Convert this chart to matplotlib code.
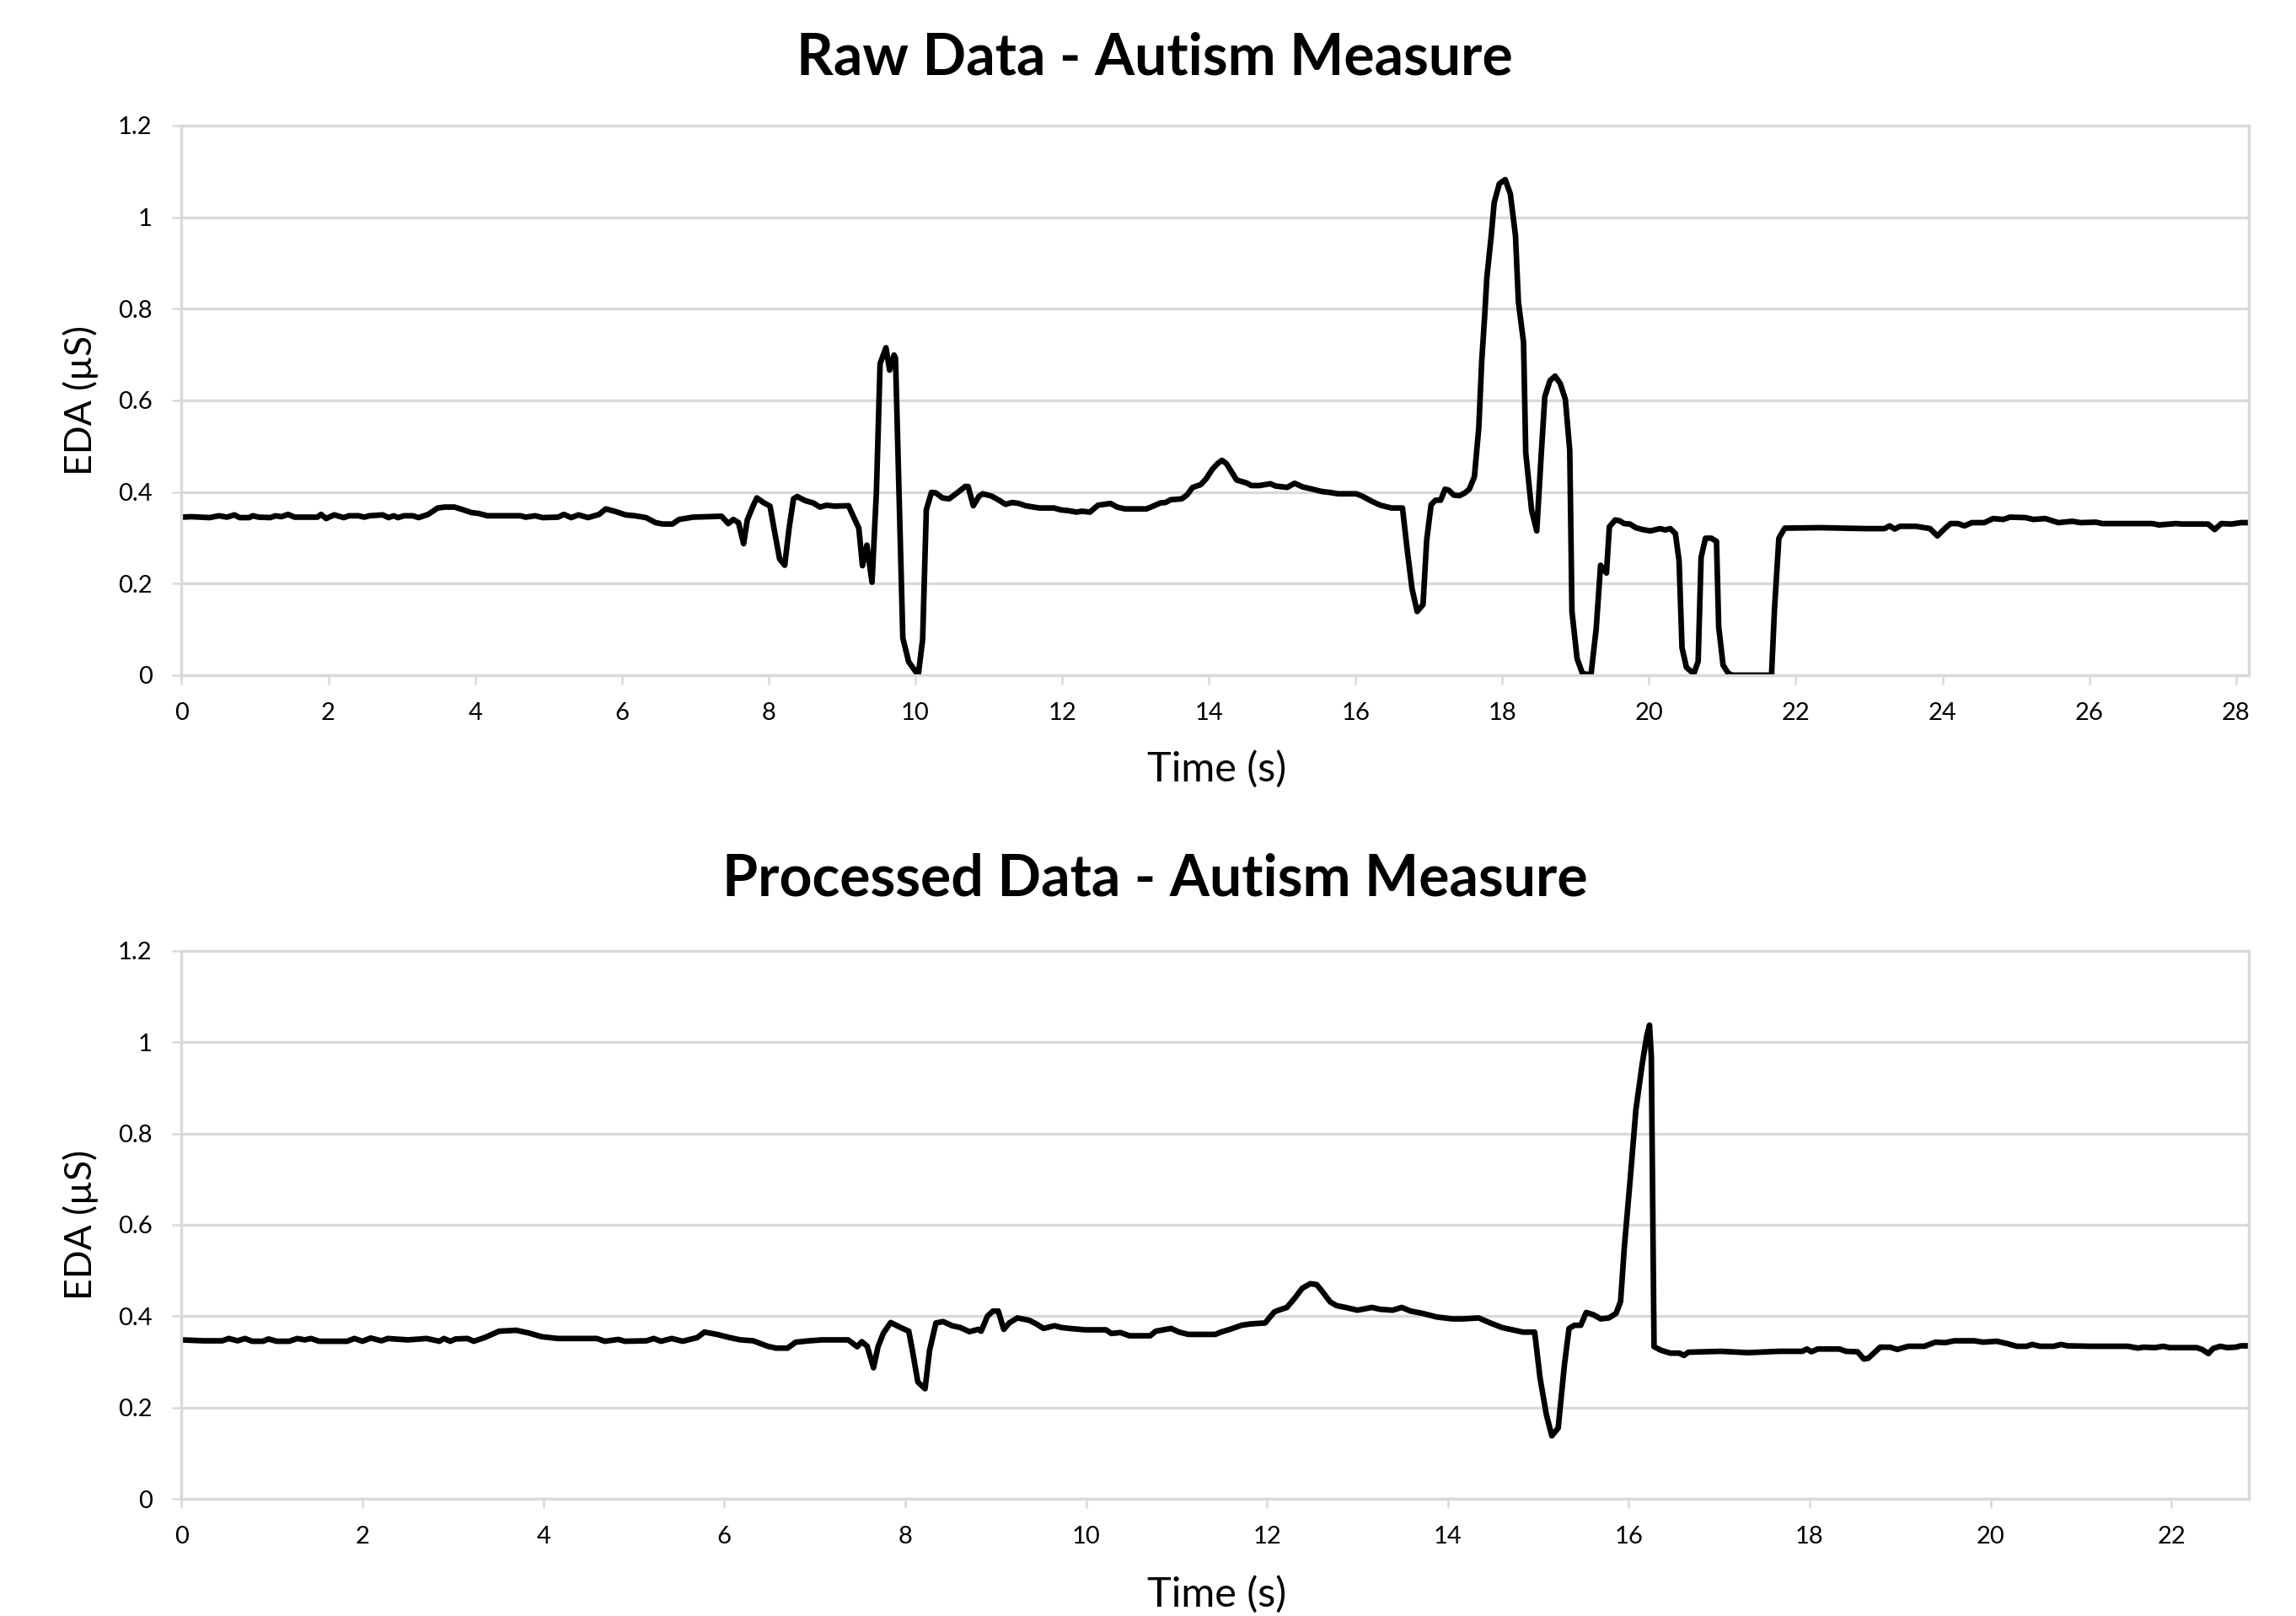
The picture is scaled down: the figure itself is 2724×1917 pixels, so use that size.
"""EDA raw vs processed figure (two stacked panels, Excel-like styling)."""

import matplotlib

matplotlib.use("Agg")
import matplotlib.pyplot as plt

plt.rcParams.update({
    "font.family": "Lato",
    "font.size": 21,
})

# ---------------------------------------------------------------------------
# data
raw_time = [
    0.00, 0.13, 0.38, 0.51, 0.62, 0.72, 0.79, 0.92, 0.97, 1.05, 1.21, 1.28,
    1.36, 1.45, 1.54, 1.85, 1.90, 1.97, 2.08, 2.21, 2.28, 2.41, 2.49, 2.56,
    2.74, 2.82, 2.89, 2.95, 3.03, 3.15, 3.23, 3.36, 3.49, 3.59, 3.72, 3.82,
    3.95, 4.05, 4.17, 4.62, 4.69, 4.82, 4.92, 5.13, 5.21, 5.31, 5.41, 5.54,
    5.69, 5.78, 5.92, 6.05, 6.18, 6.33, 6.46, 6.56, 6.69, 6.78, 6.97, 7.36,
    7.45, 7.52, 7.59, 7.66, 7.71, 7.79, 7.84, 7.93, 8.02, 8.08, 8.15, 8.22,
    8.28, 8.34, 8.39, 8.50, 8.61, 8.70, 8.79, 8.90, 9.09, 9.16, 9.23, 9.28,
    9.34, 9.41, 9.47, 9.52, 9.60, 9.65, 9.71, 9.73, 9.78, 9.83, 9.91, 10.04,
    10.10, 10.15, 10.22, 10.28, 10.37, 10.46, 10.57, 10.68, 10.72, 10.79,
    10.87, 10.92, 11.04, 11.14, 11.23, 11.32, 11.41, 11.50, 11.61, 11.69,
    11.89, 11.98, 12.09, 12.20, 12.27, 12.38, 12.49, 12.66, 12.75, 12.86,
    13.15, 13.24, 13.34, 13.41, 13.48, 13.63, 13.70, 13.78, 13.89, 13.96,
    14.05, 14.12, 14.18, 14.24, 14.31, 14.38, 14.51, 14.58, 14.69, 14.84,
    14.91, 15.07, 15.17, 15.28, 15.39, 15.54, 15.65, 15.76, 16.01, 16.09,
    16.23, 16.34, 16.49, 16.64, 16.70, 16.77, 16.84, 16.92, 16.97, 17.03,
    17.09, 17.16, 17.22, 17.27, 17.34, 17.42, 17.49, 17.55, 17.62, 17.68,
    17.72, 17.76, 17.79, 17.85, 17.89, 17.96, 18.04, 18.11, 18.18, 18.22,
    18.29, 18.32, 18.40, 18.47, 18.53, 18.58, 18.65, 18.72, 18.79, 18.86,
    18.92, 18.95, 19.02, 19.09, 19.14, 19.21, 19.28, 19.34, 19.42, 19.46,
    19.54, 19.60, 19.66, 19.74, 19.82, 19.91, 20.02, 20.15, 20.22, 20.29,
    20.36, 20.41, 20.45, 20.51, 20.61, 20.67, 20.71, 20.77, 20.85, 20.92,
    20.95, 21.01, 21.08, 21.14, 21.67, 21.71, 21.77, 21.85, 22.34, 22.94,
    23.21, 23.28, 23.35, 23.42, 23.64, 23.83, 23.93, 24.03, 24.11, 24.21,
    24.30, 24.40, 24.57, 24.69, 24.83, 24.92, 25.13, 25.24, 25.40, 25.58,
    25.77, 25.88, 26.09, 26.18, 26.41, 26.86, 26.95, 27.18, 27.27, 27.62,
    27.71, 27.80, 27.94, 28.07, 28.16,
]
raw_eda = [
    0.345, 0.346, 0.344, 0.348, 0.345, 0.350, 0.344, 0.344, 0.348, 0.345, 0.344, 0.348,
    0.346, 0.351, 0.345, 0.345, 0.351, 0.342, 0.350, 0.344, 0.348, 0.348, 0.345, 0.348,
    0.350, 0.344, 0.348, 0.344, 0.348, 0.348, 0.344, 0.351, 0.365, 0.367, 0.367, 0.362,
    0.355, 0.353, 0.348, 0.348, 0.345, 0.348, 0.344, 0.345, 0.351, 0.344, 0.350, 0.344,
    0.351, 0.363, 0.357, 0.350, 0.348, 0.344, 0.333, 0.330, 0.330, 0.340, 0.345, 0.347,
    0.331, 0.340, 0.333, 0.287, 0.339, 0.370, 0.387, 0.377, 0.369, 0.315, 0.254, 0.240,
    0.321, 0.385, 0.390, 0.381, 0.376, 0.367, 0.371, 0.369, 0.370, 0.345, 0.321, 0.239,
    0.284, 0.203, 0.401, 0.680, 0.715, 0.666, 0.699, 0.692, 0.388, 0.081, 0.029, 0.000,
    0.078, 0.361, 0.399, 0.398, 0.387, 0.385, 0.398, 0.412, 0.412, 0.370,
    0.391, 0.396, 0.391, 0.382, 0.373, 0.377, 0.375, 0.370, 0.367, 0.365,
    0.365, 0.361, 0.359, 0.356, 0.358, 0.356, 0.371, 0.375, 0.367, 0.363,
    0.363, 0.369, 0.376, 0.377, 0.383, 0.385, 0.393, 0.410, 0.416, 0.428,
    0.450, 0.462, 0.469, 0.462, 0.444, 0.426, 0.420, 0.414, 0.414, 0.418,
    0.413, 0.410, 0.419, 0.411, 0.407, 0.401, 0.399, 0.396, 0.396, 0.391,
    0.379, 0.371, 0.365, 0.365, 0.280, 0.189, 0.139, 0.154, 0.295, 0.372,
    0.382, 0.382, 0.406, 0.404, 0.393, 0.392, 0.398, 0.406, 0.433, 0.540,
    0.685, 0.784, 0.868, 0.960, 1.032, 1.073, 1.082, 1.051, 0.960, 0.815,
    0.727, 0.486, 0.360, 0.315, 0.479, 0.608, 0.643, 0.653, 0.637, 0.602,
    0.490, 0.139, 0.036, 0.005, 0.002, 0.002, 0.101, 0.240, 0.223, 0.324,
    0.339, 0.337, 0.331, 0.330, 0.322, 0.318, 0.315, 0.320, 0.317, 0.320,
    0.309, 0.250, 0.060, 0.017, 0.003, 0.030, 0.257, 0.299, 0.299, 0.292,
    0.105, 0.022, 0.004, 0.000, 0.000, 0.143, 0.299, 0.321, 0.322, 0.320,
    0.320, 0.326, 0.319, 0.325, 0.325, 0.320, 0.304, 0.320, 0.331, 0.331,
    0.326, 0.333, 0.333, 0.342, 0.340, 0.345, 0.344, 0.340, 0.342, 0.333,
    0.336, 0.333, 0.334, 0.331, 0.331, 0.331, 0.328, 0.331, 0.330, 0.330,
    0.318, 0.331, 0.330, 0.333, 0.333,
]

proc_time = [
    0.00, 0.24, 0.45, 0.52, 0.62, 0.70, 0.78, 0.90, 0.96, 1.05, 1.19, 1.28,
    1.36, 1.43, 1.52, 1.83, 1.91, 2.00, 2.09, 2.21, 2.28, 2.42, 2.50, 2.71,
    2.85, 2.90, 2.97, 3.03, 3.16, 3.23, 3.35, 3.51, 3.70, 3.84, 3.98, 4.16,
    4.59, 4.68, 4.83, 4.90, 5.14, 5.22, 5.30, 5.42, 5.54, 5.70, 5.78, 5.92,
    6.06, 6.18, 6.32, 6.48, 6.57, 6.70, 6.79, 6.94, 7.08, 7.37, 7.47, 7.52,
    7.58, 7.65, 7.70, 7.76, 7.84, 7.95, 8.04, 8.08, 8.14, 8.22, 8.27, 8.34,
    8.42, 8.52, 8.61, 8.71, 8.81, 8.84, 8.91, 8.97, 9.03, 9.09, 9.15, 9.24,
    9.37, 9.45, 9.53, 9.65, 9.73, 9.82, 9.99, 10.22, 10.28, 10.38, 10.48,
    10.71, 10.77, 10.94, 11.03, 11.13, 11.43, 11.49, 11.59, 11.72, 11.82,
    11.98, 12.08, 12.13, 12.22, 12.31, 12.39, 12.48, 12.55, 12.60, 12.70,
    12.77, 12.87, 13.00, 13.16, 13.25, 13.39, 13.49, 13.59, 13.72, 13.88,
    14.05, 14.17, 14.34, 14.47, 14.60, 14.83, 14.96, 15.02, 15.09, 15.15,
    15.22, 15.29, 15.34, 15.40, 15.47, 15.53, 15.61, 15.69, 15.78, 15.86,
    15.91, 15.95, 16.02, 16.08, 16.15, 16.20, 16.23, 16.25, 16.28, 16.36,
    16.46, 16.56, 16.61, 16.66, 17.02, 17.32, 17.66, 17.92, 17.97, 18.02,
    18.09, 18.33, 18.40, 18.53, 18.60, 18.65, 18.78, 18.89, 18.97, 19.09,
    19.27, 19.39, 19.50, 19.60, 19.82, 19.92, 20.07, 20.18, 20.29, 20.40,
    20.46, 20.55, 20.70, 20.78, 20.85, 21.11, 21.52, 21.63, 21.69, 21.82,
    21.91, 21.98, 22.28, 22.34, 22.41, 22.46, 22.54, 22.62, 22.71, 22.77,
    22.86,
]
proc_eda = [
    0.348, 0.346, 0.346, 0.351, 0.346, 0.351, 0.345, 0.345, 0.350, 0.345, 0.345, 0.351,
    0.348, 0.351, 0.345, 0.345, 0.351, 0.345, 0.352, 0.346, 0.351, 0.349, 0.348, 0.351,
    0.345, 0.351, 0.345, 0.350, 0.351, 0.345, 0.353, 0.367, 0.369, 0.363, 0.355, 0.351,
    0.351, 0.345, 0.349, 0.345, 0.346, 0.351, 0.345, 0.351, 0.345, 0.353, 0.365, 0.360,
    0.353, 0.348, 0.346, 0.334, 0.330, 0.330, 0.343, 0.346, 0.348, 0.348, 0.333, 0.344,
    0.334, 0.287, 0.333, 0.363, 0.386, 0.375, 0.367, 0.325, 0.256, 0.241, 0.325, 0.385,
    0.388, 0.379, 0.375, 0.366, 0.371, 0.367, 0.400, 0.411, 0.411, 0.371, 0.385, 0.396,
    0.391, 0.383, 0.373, 0.379, 0.375, 0.373, 0.370, 0.370, 0.362, 0.364, 0.357,
    0.357, 0.367, 0.373, 0.365, 0.360, 0.360, 0.365, 0.371, 0.380, 0.383,
    0.385, 0.409, 0.413, 0.419, 0.440, 0.461, 0.471, 0.469, 0.457, 0.431,
    0.423, 0.419, 0.413, 0.419, 0.415, 0.413, 0.419, 0.411, 0.406, 0.398,
    0.394, 0.394, 0.396, 0.385, 0.375, 0.365, 0.365, 0.264, 0.184, 0.138,
    0.155, 0.295, 0.373, 0.380, 0.380, 0.408, 0.403, 0.394, 0.396, 0.406,
    0.432, 0.547, 0.708, 0.853, 0.953, 1.014, 1.037, 0.968, 0.333, 0.325,
    0.319, 0.319, 0.314, 0.321, 0.323, 0.320, 0.323, 0.323, 0.328, 0.322,
    0.328, 0.328, 0.323, 0.322, 0.306, 0.308, 0.332, 0.332, 0.327, 0.334,
    0.334, 0.343, 0.342, 0.346, 0.346, 0.343, 0.345, 0.340, 0.334, 0.334,
    0.338, 0.334, 0.334, 0.338, 0.335, 0.334, 0.334, 0.330, 0.332, 0.331,
    0.334, 0.331, 0.331, 0.327, 0.318, 0.329, 0.334, 0.331, 0.332, 0.335,
    0.335,
]

raw_xticks = list(range(0, 29, 2))
proc_xticks = list(range(0, 23, 2))
yticks = [0, 0.2, 0.4, 0.6, 0.8, 1.0, 1.2]
ytick_labels = ["0", "0.2", "0.4", "0.6", "0.8", "1", "1.2"]

GRID = "#D9D9D9"


def style_axis(ax, xticks, xmax):
    ax.set_xlim(0, xmax)
    ax.set_ylim(0, 1.2)
    ax.set_xticks(xticks)
    ax.set_yticks(yticks, labels=ytick_labels)
    ax.yaxis.grid(True, color=GRID, linewidth=2.4)
    ax.set_axisbelow(True)
    for s in ax.spines.values():
        s.set_color(GRID)
        s.set_linewidth(2.4)
    ax.tick_params(axis="both", colors=GRID, labelcolor="black",
                   labelsize=21, width=1.8, length=8)
    ax.tick_params(axis="y", pad=17)
    ax.tick_params(axis="x", pad=15)


fig = plt.figure(figsize=(27.24, 19.17), dpi=100)

ax1 = fig.add_axes([0.0791, 0.5822, 0.9005, 0.3401])
ax1.plot(raw_time, raw_eda, color="black", linewidth=4.8, solid_joinstyle="round")
style_axis(ax1, raw_xticks, 28.18)

ax2 = fig.add_axes([0.0791, 0.0725, 0.9005, 0.3392])
ax2.plot(proc_time, proc_eda, color="black", linewidth=4.8, solid_joinstyle="round")
style_axis(ax2, proc_xticks, 22.86)

# titles and axis labels placed in figure coords
fig.text(0.503, 0.964, "Raw Data - Autism Measure", ha="center", va="center",
         fontsize=49, fontweight="bold")
fig.text(0.503, 0.456, "Processed Data - Autism Measure", ha="center", va="center",
         fontsize=49, fontweight="bold")
fig.text(0.530, 0.524, "Time (s)", ha="center", va="center", fontsize=35)
fig.text(0.530, 0.0135, "Time (s)", ha="center", va="center", fontsize=35)
fig.text(0.0352, 0.752, "EDA (µS)", ha="center", va="center", fontsize=32, rotation=90)
fig.text(0.0352, 0.242, "EDA (µS)", ha="center", va="center", fontsize=32, rotation=90)

fig.savefig("out.png", dpi=100)
